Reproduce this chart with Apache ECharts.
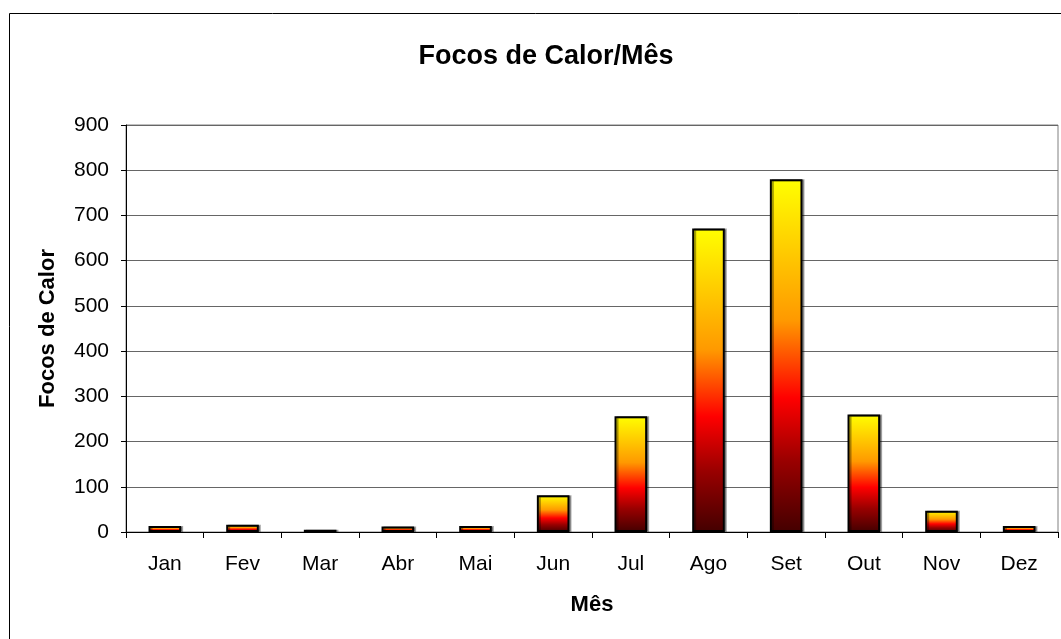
<!DOCTYPE html>
<html><head><meta charset="utf-8">
<script src="https://cdn.jsdelivr.net/npm/echarts@6/dist/echarts.min.js"></script>
<style>html,body{margin:0;padding:0;background:#fff}#c{width:1061px;height:639px}</style>
</head><body><div id="c"></div>
<script>
const months = ["Jan","Fev","Mar","Abr","Mai","Jun","Jul","Ago","Set","Out","Nov","Dez"];
const focos = [13, 16, 5, 12, 13, 81, 256, 671, 780, 260, 47, 13];
const yTicks = [0, 900, 100];

const chart = echarts.init(document.getElementById('c'), null, {renderer:'canvas'});
const font = '"Liberation Sans", Arial, sans-serif';
const grad = new echarts.graphic.LinearGradient(0,0,0,1,[
  {offset:0, color:'#ffff00'},
  {offset:0.2, color:'#ffcc00'},
  {offset:0.4, color:'#ff9900'},
  {offset:0.62, color:'#ff0000'},
  {offset:0.8, color:'#990000'},
  {offset:1, color:'#440000'}
]);
chart.setOption({
  animation:false,
  backgroundColor:'#fff',
  title:{text:'Focos de Calor/Mês', left:541, top:38, textAlign:'center',
    textStyle:{fontFamily:font, fontSize:27, fontWeight:'bold', color:'#000'}},
  graphic:[{type:'rect', shape:{x:9.5,y:13.5,width:1100,height:700}, style:{fill:null, stroke:'#000', lineWidth:1}, silent:true}],
  grid:{left:126, right:3, top:125, bottom:107, show:true, borderColor:'#808080', borderWidth:1, backgroundColor:'transparent'},
  xAxis:{type:'category', data:months, name:'Mês', nameLocation:'middle', nameGap:62,
    nameTextStyle:{fontFamily:font, fontSize:22, fontWeight:'bold', color:'#000'},
    axisLine:{lineStyle:{color:'#000', width:1}},
    axisTick:{show:true, alignWithLabel:false, length:6, lineStyle:{color:'#000'}},
    axisLabel:{fontFamily:font, fontSize:21, color:'#000', margin:22}},
  yAxis:{type:'value', min:yTicks[0], max:yTicks[1], interval:yTicks[2],
    name:'Focos de Calor', nameLocation:'middle', nameGap:67, nameRotate:90,
    nameTextStyle:{fontFamily:font, fontSize:22, fontWeight:'bold', color:'#000'},
    axisLine:{show:true, lineStyle:{color:'#000', width:1}},
    axisTick:{show:true, length:5, lineStyle:{color:'#000'}},
    axisLabel:{fontFamily:font, fontSize:21, color:'#000', margin:17},
    splitLine:{lineStyle:{color:'#666', width:1}}},
  series:[{type:'bar', data:focos, barWidth:'42%',
    itemStyle:{color:grad, borderColor:'#000', borderWidth:2,
      shadowColor:'rgba(0,0,0,0.35)', shadowOffsetX:2, shadowOffsetY:0, shadowBlur:0}}]
});
</script></body></html>
